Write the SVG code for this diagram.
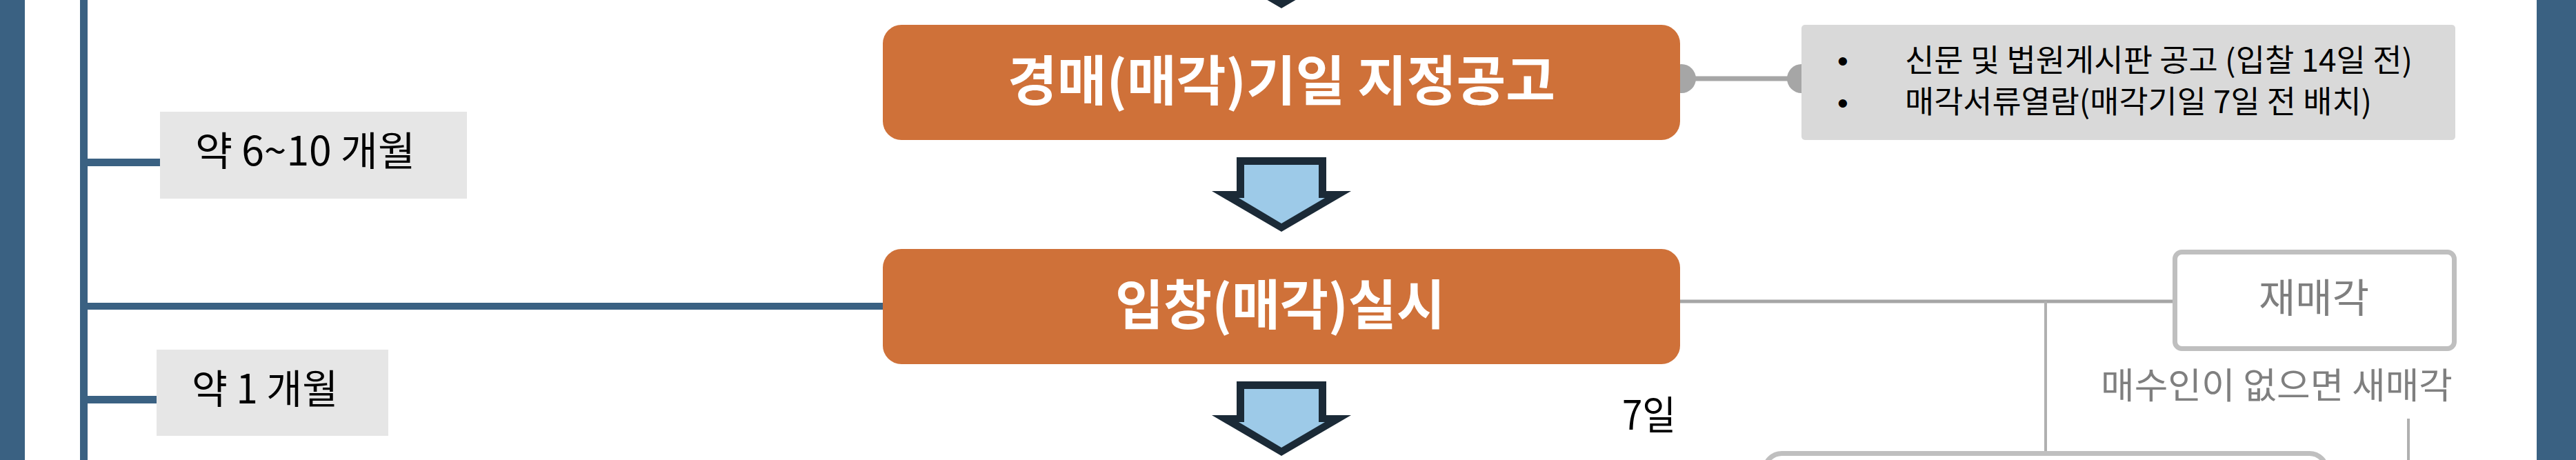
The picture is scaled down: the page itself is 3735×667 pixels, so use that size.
<svg xmlns="http://www.w3.org/2000/svg" xmlns:xlink="http://www.w3.org/1999/xlink" width="3735" height="667" viewBox="0 0 3735 667">
<style>
.bar{fill:#3a6182}
.blue{stroke:#3a6182;fill:none}
.gray{stroke:#a6a6a6;fill:none}
.thin{stroke:#b0b0b0;stroke-width:4;fill:none}
.step{fill:#cf7139}
.stepText{font-family:"Noto Sans CJK KR","Noto Sans",sans-serif;font-weight:700;font-size:78px;fill:#ffffff}
.label{fill:#e6e6e6}
.labelText{font-family:"Noto Sans CJK KR","Noto Sans",sans-serif;font-size:58px;fill:#000000}
.info{fill:#d9d9d9}
.infoText{font-family:"Noto Sans CJK KR","Noto Sans",sans-serif;font-size:45px;fill:#000000}
.bullet{font-family:"Liberation Sans",sans-serif;font-size:45px;fill:#000000}
.outline{fill:#ffffff;stroke:#bfbfbf;stroke-width:7}
.grayText{font-family:"Noto Sans CJK KR","Noto Sans",sans-serif;fill:#7f7f7f}
.dot{fill:#a6a6a6}
</style>
<defs>
<g id="blockArrow">
<polygon points="1793,228 1923,228 1923,277 1959,277 1858,336 1757,277 1793,277" fill="#1b2a37"/>
<polygon points="1804,239 1912,239 1912,287 1921,287 1858,324 1796,287 1804,287" fill="#9dcae8"/>
</g>
</defs>
<rect width="3735" height="667" fill="#ffffff"/>
<rect class="bar" x="0" y="0" width="36" height="667"/>
<rect class="bar" x="3678" y="0" width="57" height="667"/>

<g id="connectors">
<line class="blue" x1="121.5" y1="0" x2="121.5" y2="667" stroke-width="11"/>
<line class="blue" x1="121" y1="235.5" x2="232" y2="235.5" stroke-width="11"/>
<line class="blue" x1="121" y1="444" x2="1282" y2="444" stroke-width="10"/>
<line class="blue" x1="121" y1="579.5" x2="227" y2="579.5" stroke-width="11"/>
<use xlink:href="#blockArrow" href="#blockArrow" transform="translate(0,-324)"/>
<use xlink:href="#blockArrow" href="#blockArrow"/>
<use xlink:href="#blockArrow" href="#blockArrow" transform="translate(0,325)"/>
<line class="gray" x1="2438" y1="114" x2="2612" y2="114" stroke-width="7"/>
<circle class="dot" cx="2438" cy="114" r="21"/>
<circle class="dot" cx="2612" cy="114" r="21"/>
<line class="gray" x1="2436" y1="437" x2="3152" y2="437" stroke-width="5"/>
<line class="thin" x1="2966" y1="437" x2="2966" y2="657"/>
<line class="thin" x1="3492" y1="607" x2="3492" y2="667"/>
</g>

<g id="node-gonggo">
<rect class="step" x="1280" y="36" width="1156" height="167" rx="27"/>
<text class="stepText" x="1461" y="146" textLength="794" lengthAdjust="spacingAndGlyphs">경매(매각)기일 지정공고</text>
</g>

<g id="node-info">
<rect class="info" x="2612" y="36" width="948" height="167" rx="5"/>
<text class="bullet" x="2672" y="104" text-anchor="middle">•</text>
<text class="bullet" x="2672" y="165" text-anchor="middle">•</text>
<text class="infoText" x="2762" y="104" textLength="736" lengthAdjust="spacingAndGlyphs">신문 및 법원게시판 공고 (입찰 14일 전)</text>
<text class="infoText" x="2762" y="164" textLength="677" lengthAdjust="spacingAndGlyphs">매각서류열람(매각기일 7일 전 배치)</text>
</g>

<g id="node-ipchal">
<rect class="step" x="1280" y="361" width="1156" height="167" rx="27"/>
<text class="stepText" x="1617" y="471" textLength="478" lengthAdjust="spacingAndGlyphs">입창(매각)실시</text>
</g>

<g id="label-months1">
<rect class="label" x="232" y="162" width="445" height="126"/>
<text class="labelText" x="283" y="240" textLength="319" lengthAdjust="spacingAndGlyphs">약 6~10 개월</text>
</g>

<g id="label-months2">
<rect class="label" x="227" y="507" width="336" height="125"/>
<text class="labelText" x="278" y="585" textLength="212" lengthAdjust="spacingAndGlyphs">약 1 개월</text>
</g>

<g id="label-7days">
<text class="labelText" x="2352" y="623" font-size="60" textLength="78" lengthAdjust="spacingAndGlyphs">7일</text>
</g>

<g id="node-jaemaegak">
<rect class="outline" x="3153.5" y="365.5" width="405" height="140" rx="10"/>
<text class="grayText" x="3275" y="453" font-size="58" textLength="160" lengthAdjust="spacingAndGlyphs">재매각</text>
</g>

<g id="label-saemaegak">
<text class="grayText" x="3046" y="578" font-size="52" textLength="510" lengthAdjust="spacingAndGlyphs">매수인이 없으면 새매각</text>
</g>

<g id="node-next">
<rect class="outline" x="2558.5" y="657.5" width="815" height="120" rx="25"/>
</g>
</svg>
